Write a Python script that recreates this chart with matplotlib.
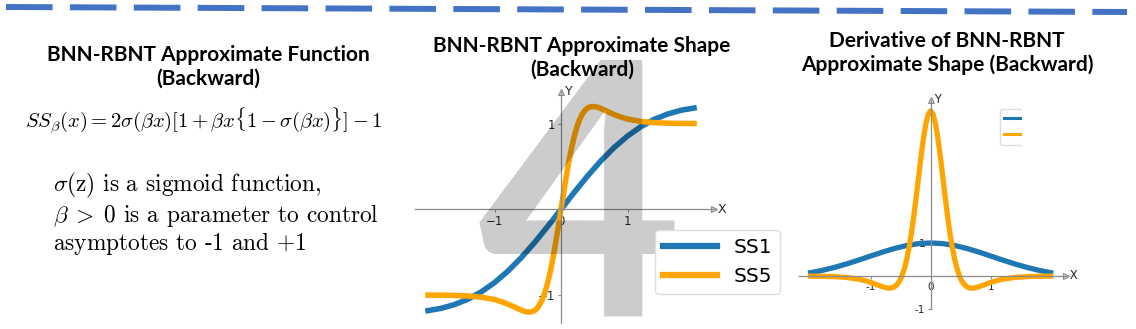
import matplotlib
matplotlib.use('Agg')
import matplotlib.pyplot as plt
from matplotlib.lines import Line2D

# ---- data ----
# BNN-RBNT approximate shape (middle panel)
x_ss1 = [-2.0, -1.8, -1.6, -1.4, -1.2, -1.0, -0.8, -0.6, -0.4, -0.2, 0.0,
         0.2, 0.4, 0.6, 0.8, 1.0, 1.2, 1.4, 1.6, 1.8, 2.0]
ss1 = [-1.182, -1.155, -1.111, -1.049, -0.964, -0.855, -0.722, -0.566, -0.390, -0.199, 0.0,
       0.199, 0.390, 0.566, 0.722, 0.855, 0.964, 1.049, 1.111, 1.155, 1.182]

x_ss5 = [-2.0, -1.8, -1.6, -1.4, -1.2, -1.0, -0.9, -0.8, -0.7, -0.6, -0.56, -0.5, -0.44,
         -0.4, -0.36, -0.32, -0.28, -0.24, -0.2, -0.16, -0.12, -0.08, -0.04, 0.0,
         0.04, 0.08, 0.12, 0.16, 0.2, 0.24, 0.28, 0.32, 0.36, 0.4,
         0.44, 0.5, 0.56, 0.6, 0.7, 0.8, 0.9, 1.0, 1.2, 1.4, 1.6, 1.8, 2.0]
ss5 = [-1.001, -1.002, -1.005, -1.011, -1.025, -1.053, -1.077, -1.105, -1.141, -1.176, -1.188, -1.199, -1.196,
       -1.182, -1.155, -1.111, -1.049, -0.964, -0.855, -0.722, -0.566, -0.390, -0.199, 0.0,
       0.199, 0.390, 0.566, 0.722, 0.855, 0.964, 1.049, 1.111, 1.155, 1.182,
       1.196, 1.199, 1.188, 1.176, 1.141, 1.105, 1.077, 1.053, 1.025, 1.011, 1.005, 1.002, 1.001]

# derivative (right panel)
x_ds1 = x_ss1
ds1 = [0.100, 0.173, 0.262, 0.366, 0.482, 0.605, 0.726, 0.835, 0.923, 0.980, 1.0,
       0.980, 0.923, 0.835, 0.726, 0.605, 0.482, 0.366, 0.262, 0.173, 0.100]

x_ds5 = [-2.0, -1.8, -1.6, -1.4, -1.2, -1.1, -1.0, -0.9, -0.8, -0.72, -0.68, -0.64, -0.6,
         -0.56, -0.52, -0.48, -0.44, -0.4, -0.36, -0.32, -0.28, -0.24, -0.2, -0.16, -0.12,
         -0.08, -0.04, 0.0, 0.04, 0.08, 0.12, 0.16, 0.2, 0.24, 0.28, 0.32, 0.36, 0.4,
         0.44, 0.48, 0.52, 0.56, 0.6, 0.64, 0.68, 0.72, 0.8, 0.9, 1.0, 1.1, 1.2,
         1.4, 1.6, 1.8, 2.0]
ds5 = [-0.004, -0.009, -0.020, -0.045, -0.098, -0.140, -0.195, -0.263, -0.328, -0.365, -0.369, -0.357, -0.323,
       -0.259, -0.155, -0.001, 0.215, 0.501, 0.865, 1.310, 1.831, 2.411, 3.024, 3.628, 4.176,
       4.616, 4.901, 5.0, 4.901, 4.616, 4.176, 3.628, 3.024, 2.411, 1.831, 1.310, 0.865, 0.501,
       0.215, -0.001, -0.155, -0.259, -0.323, -0.357, -0.369, -0.365, -0.328, -0.263, -0.195, -0.140, -0.098,
       -0.045, -0.020, -0.009, -0.004]

series_labels = ['SS1', 'SS5']
x_ticks = [-1, 0, 1]
y_ticks = [-1, 1]

BLUE = '#1f77b4'
ORANGE = '#ffa500'
W, H = 1136, 329


def fx(px):
    return px / W


def fy(py):
    return 1 - py / H


def style_axes(ax, tick_size):
    for side in ['top', 'right']:
        ax.spines[side].set_visible(False)
    for side in ['left', 'bottom']:
        ax.spines[side].set_position('zero')
        ax.spines[side].set_color('#8c8c8c')
        ax.spines[side].set_linewidth(0.9)
    ax.set_xticks(x_ticks)
    ax.set_yticks(y_ticks)
    ax.tick_params(length=2, color='#8c8c8c', labelsize=tick_size,
                   labelcolor='#262626', pad=2)
    ax.patch.set_alpha(0)
    ax.plot(1, 0, '>', ms=5, mfc='#d9d9d9', mec='#8c8c8c', mew=0.8,
            transform=ax.get_yaxis_transform(), clip_on=False)
    ax.plot(0, 1, '^', ms=5, mfc='#d9d9d9', mec='#8c8c8c', mew=0.8,
            transform=ax.get_xaxis_transform(), clip_on=False)


fig = plt.figure(figsize=(W / 100, H / 100), dpi=100)

# dashed rule across the top of the slide
fig.add_artist(Line2D([fx(6), fx(1127)], [fy(7), fy(12)], color='#4472c4',
                      lw=4.3, dashes=(7.8, 2.9), solid_capstyle='butt'))

title_font = dict(family='Lato', weight='bold', color='black')

# ---- left panel: formula text ----
fig.text(fx(208), fy(67), 'BNN-RBNT Approximate Function\n(Backward)',
         ha='center', va='center', fontsize=15, linespacing=1.25, **title_font)
plt.rcParams['mathtext.fontset'] = 'cm'
fig.text(fx(25), fy(121),
         r'$SS_\beta(x) = 2\sigma(\beta x)[1+\beta x\{1-\sigma(\beta x)\}]-1$',
         ha='left', va='center', fontsize=14.8)
fig.text(fx(53), fy(214),
         '$\\sigma(\\mathrm{z})$ is a sigmoid function,\n'
         '$\\beta\\;>\\;0$ is a parameter to control\n'
         'asymptotes to -1 and $+1$',
         ha='left', va='center', fontsize=16.8, family='cmr10',
         linespacing=1.08)

# ---- middle panel: approximate shape ----
fig.text(fx(582), fy(58), 'BNN-RBNT Approximate Shape\n(Backward)',
         ha='center', va='center', fontsize=15, linespacing=1.25, **title_font)
ax1 = fig.add_axes([fx(414.7), fy(323.3), fx(714) - fx(414.7), fy(91.9) - fy(323.3)])
l1, = ax1.plot(x_ss1, ss1, color=BLUE, lw=4, label=series_labels[0])
l2, = ax1.plot(x_ss5, ss5, color=ORANGE, lw=4, label=series_labels[1])
ax1.set_xlim(-2.2, 2.3)
ax1.set_ylim(-1.33, 1.37)
style_axes(ax1, 8.5)
ax1.text(1.0, 0, ' X', transform=ax1.get_yaxis_transform(), ha='left',
         va='center', fontsize=9, color='#262626')
ax1.text(0, 1.0, ' Y', transform=ax1.get_xaxis_transform(), ha='left',
         va='center', fontsize=9, color='#262626')

# big slide number sitting over the middle chart
fig.text(fx(580), fy(317), '4', ha='center', va='baseline', fontsize=255,
         family='Lato', weight='bold', color='black', alpha=0.2, zorder=4)

leg = fig.legend([l1, l2], series_labels, loc='upper left',
                 bbox_to_anchor=(fx(655), fy(230)), borderaxespad=0,
                 fontsize=14.5, handlelength=2.7, labelspacing=0.5,
                 edgecolor='#dddddd', framealpha=1)
leg.set_zorder(5)
for h in leg.legend_handles:
    h.set_linewidth(4.5)

# ---- right panel: derivative ----
fig.text(fx(947), fy(53), 'Derivative of BNN-RBNT\nApproximate Shape (Backward)',
         ha='center', va='center', fontsize=15, linespacing=1.25, **title_font)
ax2 = fig.add_axes([fx(798.7), fy(309), fx(1066.3) - fx(798.7), fy(100) - fy(309)])
ax2.plot(x_ds1, ds1, color=BLUE, lw=3.8)
ax2.plot(x_ds5, ds5, color=ORANGE, lw=3.8)
ax2.set_xlim(-2.2, 2.26)
ax2.set_ylim(-1.0, 5.33)
style_axes(ax2, 7.5)
ax2.set_yticklabels(['-1', '1'])
ax2.set_xticklabels(['-1', '0', '1'])
ax2.text(1.0, 0, ' X', transform=ax2.get_yaxis_transform(), ha='left',
         va='center', fontsize=8.5, color='#262626')
ax2.text(0, 1.0, ' Y', transform=ax2.get_xaxis_transform(), ha='left',
         va='center', fontsize=8.5, color='#262626')

# legend of the right chart is cut by the slide edge: keep only the lines
leg2 = fig.legend([Line2D([], [], color=BLUE, lw=2.2), Line2D([], [], color=ORANGE, lw=2.2)],
                  ['', ''], loc='upper left', bbox_to_anchor=(fx(1000), fy(109)),
                  borderaxespad=0, fontsize=8, handlelength=3, handletextpad=0,
                  labelspacing=0.6, edgecolor='#dddddd', framealpha=1)
clip = matplotlib.transforms.TransformedBbox(
    matplotlib.transforms.Bbox([[0, 0], [fx(1022), 1]]), fig.transFigure)
leg2.get_frame().set_clip_box(clip)
for h in leg2.legend_handles:
    h.set_clip_box(clip)

fig.savefig('out.png', dpi=100, facecolor='white')
